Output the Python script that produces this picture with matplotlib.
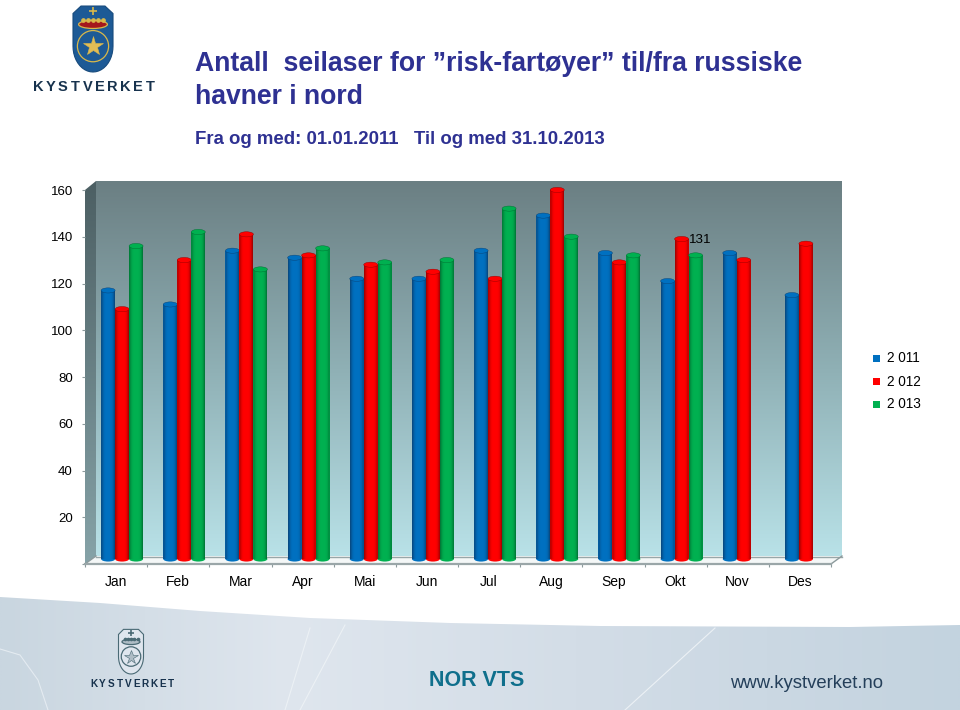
import numpy as np
import matplotlib
matplotlib.use('Agg')
import matplotlib.pyplot as plt
from matplotlib.patches import Ellipse, Polygon, Circle

plt.rcParams['font.family'] = ['Liberation Sans', 'DejaVu Sans']

months = ['Jan', 'Feb', 'Mar', 'Apr', 'Mai', 'Jun', 'Jul', 'Aug', 'Sep', 'Okt', 'Nov', 'Des']
y2011 = [116, 110, 133, 130, 121, 121, 133, 148, 132, 120, 132, 114]
y2012 = [108, 129, 140, 131, 127, 124, 121, 159, 128, 138, 129, 136]
y2013 = [135, 141, 125, 134, 128, 129, 151, 139, 131, 131]
yticks = [0, 20, 40, 60, 80, 100, 120, 140, 160]
series_names = ['2 011', '2 012', '2 013']
colors = ['#0070c0', '#ff0000', '#00b050']
dark = ['#0a3f70', '#8c0000', '#006a30']

W, H = 960, 710
fig = plt.figure(figsize=(W / 100, H / 100), dpi=100, facecolor='white')


def ax_px(left, top, right, bottom):
    return [left / W, 1 - bottom / H, (right - left) / W, (bottom - top) / H]


# page layer in pixel coordinates
bg = fig.add_axes([0, 0, 1, 1])
bg.set_xlim(0, W)
bg.set_ylim(H, 0)
bg.axis('off')


def gradient(ax, stops, extent, vertical=True, clip=None, z=1):
    g = np.linspace(0, 1, 256)
    pos = [s[0] for s in stops]
    rgb = np.array([matplotlib.colors.to_rgb(s[1]) for s in stops])
    img = np.stack([np.interp(g, pos, rgb[:, i]) for i in range(3)], axis=1)
    img = img[:, None, :] if vertical else img[None, :, :]
    im = ax.imshow(img, extent=extent, aspect='auto', zorder=z, interpolation='bilinear')
    if clip is not None:
        im.set_clip_path(clip)
    return im


# back wall, side wall, floor
gradient(bg, [(0, '#6b7f83'), (0.5, '#8fb0b5'), (1, '#b9e2e8')], (96, 842, 557, 181))
side = Polygon([(85, 190), (96, 181), (96, 557), (85, 564)], transform=bg.transData)
bg.add_patch(side)
side.set_visible(False)
gradient(bg, [(0, '#4c5f63'), (1, '#86a3a8')], (85, 96, 564, 181), clip=side, z=2)
bg.add_patch(Polygon([(85, 564), (96, 556), (842, 556), (831, 564)], fc='#f4f7f7', ec='none', zorder=2))
bg.plot([96, 842], [556.5, 556.5], color='#98a6a8', lw=1.0, zorder=3)
bg.plot([842, 831], [556, 564], color='#8c9a9c', lw=1.0, zorder=3)
bg.plot([96, 85], [556, 564], color='#8c9a9c', lw=1.0, zorder=3)

# footer
footer = Polygon([(0, 597), (100, 603), (200, 611), (310, 618), (450, 623), (600, 626), (850, 627), (960, 625),
                  (960, 710), (0, 710)], transform=bg.transData)
bg.add_patch(footer)
footer.set_visible(False)
gradient(bg, [(0, '#c9d6e0'), (0.3, '#dfe6ee'), (0.6, '#d3dde7'), (1, '#c3d3df')], (0, 960, 710, 597),
         vertical=False, clip=footer, z=1)
bg.plot([310, 285], [628, 710], color='#ecf1f5', lw=0.8, zorder=2)
bg.plot([345, 300], [625, 710], color='#ecf1f5', lw=0.8, zorder=2)
bg.plot([715, 625], [628, 710], color='#ecf1f5', lw=0.8, zorder=2)
bg.plot([0, 20, 38, 48], [649, 655, 680, 710], color='#e4ebf1', lw=0.8, zorder=2)


def shield(cx, top, w, h, face, edge, crown, band, star):
    t = np.linspace(0, np.pi / 2, 12)
    low_r = [(cx + w / 2 * np.cos(a), top + h * 0.62 + h * 0.38 * np.sin(a)) for a in t]
    low_l = [(2 * cx - px, py) for px, py in low_r[::-1]]
    verts = [(cx - w * 0.3, top + h * 0.03), (cx + w * 0.3, top + h * 0.03), (cx + w / 2, top + h * 0.14)]
    verts += low_r + low_l + [(cx - w / 2, top + h * 0.14)]
    bg.add_patch(Polygon(verts, fc=face, ec=edge, lw=0.8, zorder=4))
    bg.add_patch(Ellipse((cx, top + h * 0.30), w * 0.72, h * 0.12, fc=crown, ec=band, lw=0.9, zorder=5))
    for dx in [-0.26, -0.13, 0, 0.13, 0.26]:
        bg.plot([cx + dx * w], [top + h * 0.23], marker='o', ms=h * 0.035, color=band, zorder=6)
    bg.plot([cx], [top + h * 0.10], marker='+', ms=h * 0.09, mew=1.2, color=band, zorder=6)
    bg.add_patch(Circle((cx, top + h * 0.62), w * 0.39, fc='none', ec=band, lw=0.9, zorder=5))
    bg.plot([cx], [top + h * 0.62], marker='*', ms=h * 0.215, color=star, mec=band, mew=0.4, zorder=6)


shield(93, 4, 40, 68, '#1d5a96', '#174a7c', '#a5181c', '#d9b84a', '#e2bd55')
shield(131, 628, 25, 46, '#dfe6ee', '#4a6a75', '#aebcc5', '#4a6a75', '#aebcc5')

# letter spaced logo words
for x, ch in zip(np.linspace(38, 150, 10), 'KYSTVERKET'):
    bg.text(x, 87, ch, fontsize=10.5, fontweight='bold', color='#17324d', ha='center', va='center', zorder=5)
for x, ch in zip(np.linspace(94, 171, 10), 'KYSTVERKET'):
    bg.text(x, 684, ch, fontsize=7.2, fontweight='bold', color='#17324d', ha='center', va='center', zorder=5)

# titles
bg.text(195, 64, 'Antall  seilaser for \u201drisk-fartøyer\u201d til/fra russiske', fontsize=19.2, fontweight='bold',
        color='#2e3192', va='center', zorder=5)
bg.text(195, 97, 'havner i nord', fontsize=19.2, fontweight='bold', color='#2e3192', va='center', zorder=5)
bg.text(195, 140, 'Fra og med: 01.01.2011   Til og med 31.10.2013', fontsize=13.4, fontweight='bold',
        color='#2e3192', va='center', zorder=5)
bg.text(477, 681, 'NOR VTS', fontsize=15.5, fontweight='bold', color='#0f6f8c', ha='center', va='center', zorder=5)
bg.text(807, 684, 'www.kystverket.no', fontsize=13.3, color='#243f5a', ha='center', va='center', zorder=5)

# tick layer: y axis front edge
ax = fig.add_axes(ax_px(85, 190, 831, 564))
ax.patch.set_alpha(0)
ax.set_xlim(0, 12)
ax.set_ylim(0, 160)
for s in ['top', 'right', 'left']:
    ax.spines[s].set_visible(False)
ax.spines['bottom'].set_color('#9aa6a8')
ax.spines['bottom'].set_linewidth(1.6)
ax.set_yticks(yticks)
ax.set_yticklabels([str(v) if v else '' for v in yticks], fontsize=9.5, color='black')
ax.tick_params(axis='y', length=2.5, color='#8c9a9c', direction='out', pad=6.2)
ax.set_xticks(range(13))
ax.set_xticklabels([])
ax.tick_params(axis='x', length=2.5, color='#8c9a9c')
for i, m in enumerate(months):
    ax.text(i + 0.5, -7.6, m, fontsize=10, ha='center', va='center', color='black')

# bars: same scale shifted by the 3D depth
bx = fig.add_axes(ax_px(91, 185, 837, 559))
bx.set_xlim(0, 12)
bx.set_ylim(0, 160)
bx.axis('off')
bar_w = 0.225
cap = 1.1
shade = np.array([0.75, 0.4, 0.15, 0.03, 0, 0, 0, 0, 0.03, 0.12, 0.35, 0.75])


def cylinders(values, k):
    xs = np.arange(len(values)) + 0.5 + (k - 1) * bar_w
    bars = bx.bar(xs, values, width=bar_w, color=colors[k], zorder=10 + k)
    for bar in bars:
        x0, w, v = bar.get_x(), bar.get_width(), bar.get_height()
        bar.set_height(v - cap)
        bot = Ellipse((x0 + w / 2, 0), w, cap * 2, fc=colors[k], ec='none', zorder=10 + k)
        bx.add_patch(bot)
        bot.set_clip_on(False)
        top = Ellipse((x0 + w / 2, v - cap), w, cap * 2, fc=colors[k], ec=dark[k], lw=0.3, zorder=10.6 + k)
        bx.add_patch(top)
        top.set_clip_on(False)
        # cylinder shading, round at the foot
        a = np.linspace(np.pi, 2 * np.pi, 16)
        foot = [(x0 + w / 2 + w / 2 * np.cos(t), cap * np.sin(t)) for t in a]
        body = Polygon(foot + [(x0 + w, v - cap), (x0, v - cap)], transform=bx.transData)
        rgba = np.zeros((1, shade.size, 4))
        rgba[..., :3] = matplotlib.colors.to_rgb(dark[k])
        rgba[..., 3] = shade
        im = bx.imshow(rgba, extent=(x0, x0 + w, -cap, v - cap), aspect='auto', zorder=10.3 + k,
                       interpolation='bilinear')
        im.set_clip_on(True)
        im.set_clip_path(body)
    bx.set_xlim(0, 12)
    bx.set_ylim(0, 160)


cylinders(y2011, 0)
cylinders(y2012, 1)
cylinders(y2013, 2)
bx.annotate('131', xy=(9.5 + bar_w, y2013[9]), xytext=(3.2, 9.4), textcoords='offset points', fontsize=9.6,
            ha='center', va='center', color='black', zorder=20)

# legend
for name, c, py in zip(series_names, colors, [358, 381, 404]):
    bg.add_patch(plt.Rectangle((873, py - 3.5), 7, 7, fc=c, ec='none', zorder=5))
    bg.text(887, py + 0.5, name, fontsize=9.8, va='center', color='black', zorder=5)

bg.set_xlim(0, W)
bg.set_ylim(H, 0)
fig.savefig('out.png', dpi=100)
